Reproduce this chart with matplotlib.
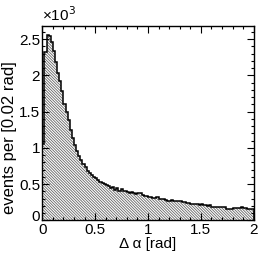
import numpy as np
import matplotlib
matplotlib.use("Agg")
import matplotlib.pyplot as plt
from matplotlib.ticker import MultipleLocator, FormatStrFormatter, FuncFormatter

plt.rcParams['font.family'] = ['Liberation Sans', 'DejaVu Sans']
plt.rcParams['hatch.linewidth'] = 0.6
plt.rcParams['hatch.color'] = '#666666'

# --- data: Delta alpha histogram, 100 bins of 0.02 rad ---
bin_edges = np.linspace(0.0, 2.0, 101)
counts = [
    1050, 2320, 2550, 2540, 2460, 2330, 2180, 2030, 1920, 1780,
    1600, 1500, 1380, 1250, 1130, 1040, 950, 890, 830, 780,
    730, 680, 650, 620, 600, 590, 550, 530, 520, 500,
    480, 470, 440, 460, 420, 440, 410, 430, 400, 410,
    390, 380, 390, 370, 360, 370, 380, 350, 330, 330,
    320, 320, 310, 310, 320, 290, 300, 300, 280, 270,
    270, 280, 270, 260, 270, 260, 250, 250, 240, 240,
    230, 230, 220, 230, 210, 220, 210, 210, 200, 210,
    190, 190, 190, 180, 190, 180, 180, 160, 160, 160,
    170, 170, 170, 170, 180, 170, 170, 160, 150, 150,
]
x_label = "Δ α [rad]"
y_label = "events per [0.02 rad]"

scaled = np.array(counts) / 1000.0

fig = plt.figure(figsize=(2.66, 2.54), dpi=100)
ax = fig.add_axes([0.159, 0.1327, 0.795, 0.765])

ax.stairs(scaled, bin_edges, fill=True, facecolor='white', edgecolor='#666666',
          hatch='\\' * 12, linewidth=0)
ax.stairs(scaled, bin_edges, fill=False, color='black', linewidth=1.1)

ax.set_xlim(0, 2)
ax.set_ylim(0, 2.68)

ax.xaxis.set_major_locator(MultipleLocator(0.5))
ax.xaxis.set_minor_locator(MultipleLocator(0.1))
ax.yaxis.set_major_locator(MultipleLocator(0.5))
ax.yaxis.set_minor_locator(MultipleLocator(0.1))
ax.xaxis.set_major_formatter(FormatStrFormatter('%g'))
# the y "0" is drawn by hand, lifted a little like ROOT does
ax.yaxis.set_major_formatter(FuncFormatter(lambda v, p: '' if v == 0 else '%g' % v))

ax.tick_params(which='both', direction='in', top=True, right=True,
               labelsize=11, width=0.8, pad=1.5)
ax.tick_params(axis='x', pad=2)
ax.tick_params(which='major', length=5)
ax.tick_params(which='minor', length=2.5)
for s in ax.spines.values():
    s.set_linewidth(1.0)

ax.annotate('0', xy=(0, 0), xycoords=('axes fraction', 'data'),
            xytext=(-1.5, 2.3), textcoords='offset points',
            ha='right', va='center', fontsize=11)

ax.text(0.5, -0.122, x_label, transform=ax.transAxes, fontsize=11,
        ha='center', va='center')
ax.text(-0.153, 0.424, y_label, transform=ax.transAxes, fontsize=12,
        ha='center', va='center', rotation=90)

ax.text(0.0, 1.01, "×10$^3$", transform=ax.transAxes,
        fontsize=11, ha='left', va='bottom')

fig.savefig("out.png", dpi=100)
